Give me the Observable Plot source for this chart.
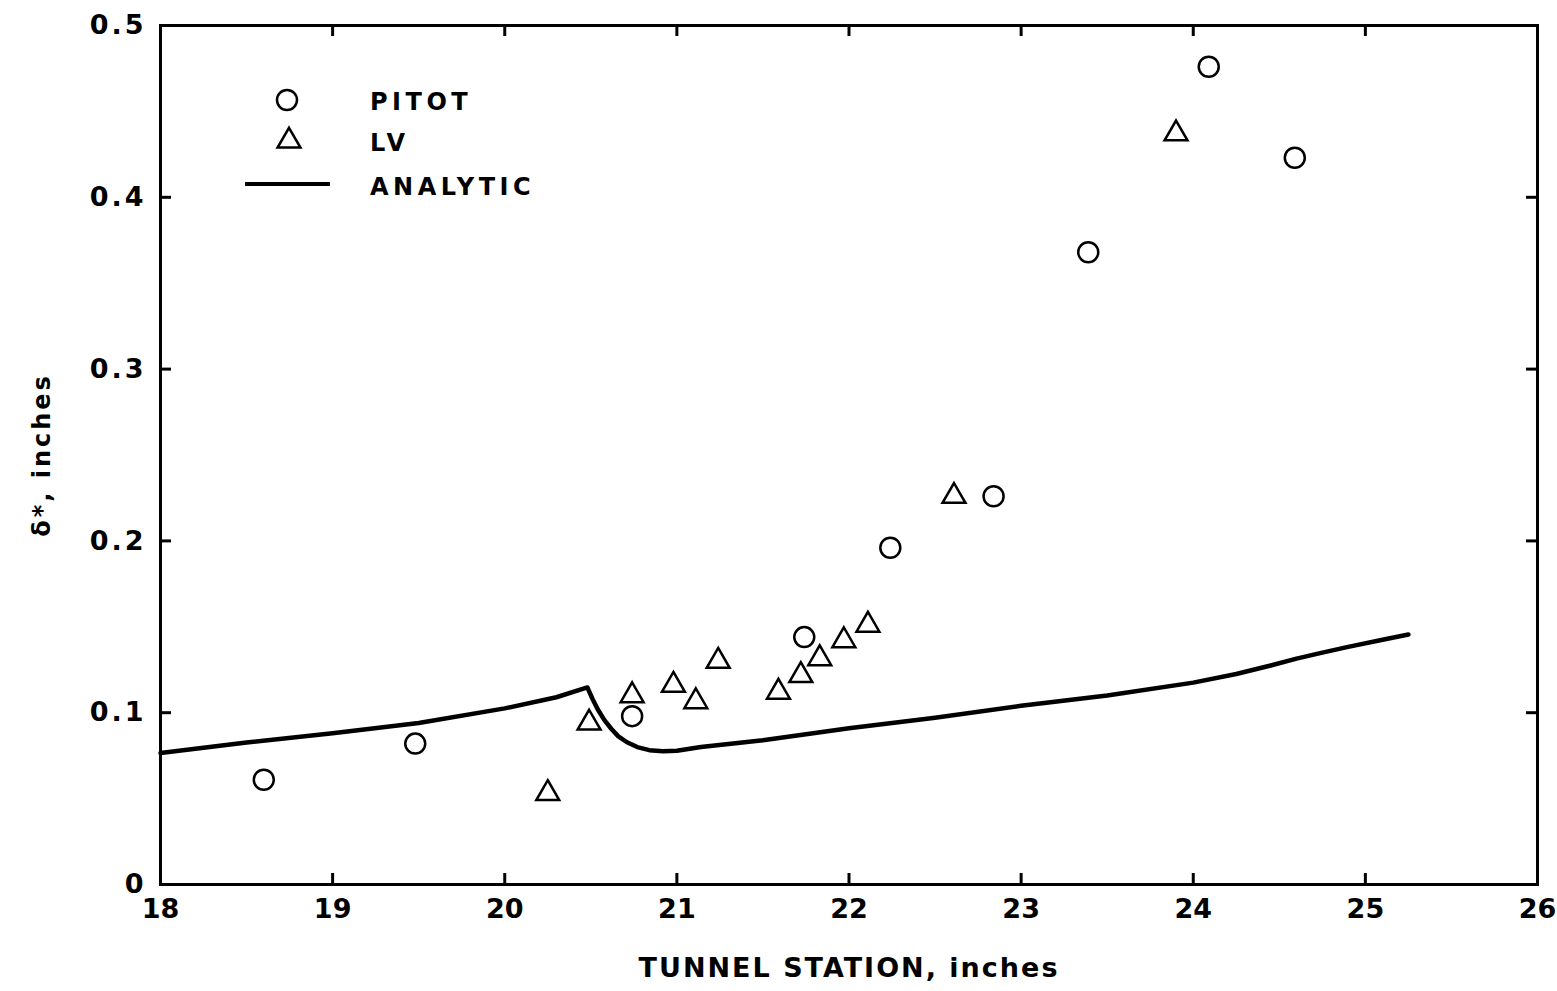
<!DOCTYPE html>
<html><head><meta charset="utf-8">
<script src="https://cdn.jsdelivr.net/npm/d3@7"></script>
<script src="https://cdn.jsdelivr.net/npm/@observablehq/plot@0.6"></script>
<style>
body{margin:0;background:#fff;}
#wrap{position:relative;width:1557px;height:991px;overflow:hidden;}
#legend{position:absolute;left:0;top:0;}
#legend text{font-family:"DejaVu Sans",sans-serif;font-weight:bold;font-size:24px;letter-spacing:4.5px;}
</style></head><body><div id="wrap"></div>
<script>
// PITOT (circles)
const pitotX = [18.60, 19.48, 20.74, 21.74, 22.24, 22.84, 23.39, 24.09, 24.59];
const pitotY = [0.061, 0.082, 0.098, 0.144, 0.196, 0.226, 0.368, 0.476, 0.423];
// LV (triangles)
const lvX = [20.25, 20.49, 20.74, 20.98, 21.11, 21.24, 21.59, 21.72, 21.83, 21.97, 22.11, 22.61, 23.90];
const lvY = [0.053, 0.094, 0.110, 0.116, 0.1065, 0.130, 0.112, 0.1217, 0.1315, 0.142, 0.151, 0.226, 0.437];
// ANALYTIC (line)
const anX = [18.0, 18.5, 19.0, 19.5, 20.0, 20.3, 20.48, 20.51, 20.54, 20.58, 20.62, 20.66, 20.71, 20.77, 20.84, 20.92, 21.0, 21.14, 21.5, 22.0, 22.5, 23.0, 23.5, 24.0, 24.25, 24.45, 24.6, 24.75, 24.9, 25.1, 25.25];
const anY = [0.0765, 0.0826, 0.088, 0.094, 0.1025, 0.109, 0.1147, 0.108, 0.102, 0.0955, 0.0905, 0.0862, 0.0828, 0.0800, 0.0782, 0.0775, 0.0778, 0.080, 0.084, 0.091, 0.097, 0.104, 0.110, 0.1175, 0.1225, 0.1275, 0.1315, 0.135, 0.1383, 0.1425, 0.1455];
// ticks
const xTicks = [18, 19, 20, 21, 22, 23, 24, 25, 26];
const yTicks = [0, 0.1, 0.2, 0.3, 0.4, 0.5];
const yTickLabels = ["0", "0.1", "0.2", "0.3", "0.4", "0.5"];

const pitot = pitotX.map((x, i) => ({x, y: pitotY[i]}));
const lv = lvX.map((x, i) => ({x, y: lvY[i]}));
const analytic = anX.map((x, i) => ({x, y: anY[i]}));

const W = 1557, H = 991;
const mL = 160, mR = 20, mT = 25, mB = 107;
const fw = W - mL - mR, fh = H - mT - mB;
const T = 11;

const chart = Plot.plot({
  width: W, height: H,
  marginLeft: mL, marginRight: mR, marginTop: mT, marginBottom: mB,
  style: {fontFamily: "'DejaVu Sans', sans-serif", fontWeight: "bold", fontSize: "26px", color: "#000", background: "#fff"},
  x: {domain: [18, 26]},
  y: {domain: [0, 0.5]},
  marks: [
    Plot.axisX({ticks: xTicks, tickSize: 0, tickPadding: 14, tickFormat: d => String(d), fontSize: 27,
      label: "TUNNEL STATION, inches", labelAnchor: "center", labelOffset: 92, labelArrow: "none"}),
    Plot.axisY({ticks: yTicks, tickSize: 0, tickPadding: 14, tickFormat: d => yTickLabels[yTicks.indexOf(d)], fontSize: 27, label: null}),
    Plot.axisY({ticks: [], tickSize: 0, label: "δ*, inches", labelAnchor: "center", labelOffset: 128, labelArrow: "none", fontSize: 24}),
    // inward ticks on all four sides
    Plot.tickX(xTicks.slice(1, -1), {x: d => d, insetTop: fh - T, strokeWidth: 3}),
    Plot.tickX(xTicks.slice(1, -1), {x: d => d, insetBottom: fh - T, strokeWidth: 3}),
    Plot.tickY(yTicks.slice(1, -1), {y: d => d, insetRight: fw - T, strokeWidth: 3}),
    Plot.tickY(yTicks.slice(1, -1), {y: d => d, insetLeft: fw - T, strokeWidth: 3}),
    Plot.frame({stroke: "#000", strokeWidth: 3}),
    Plot.line(analytic, {x: "x", y: "y", stroke: "#000", strokeWidth: 4.5, curve: "linear", strokeLinejoin: "round"}),
    Plot.dot(pitot, {x: "x", y: "y", r: 10, stroke: "#000", strokeWidth: 2.5, fill: "none"}),
    Plot.dot(lv, {x: "x", y: "y", r: 8.5, symbol: "triangle", stroke: "#000", strokeWidth: 2.5, fill: "none"})
  ]
});
const wrap = document.getElementById("wrap");
wrap.appendChild(chart);
chart.querySelectorAll('[aria-label="x-axis label"] text').forEach(t => t.setAttribute("letter-spacing", "2"));
chart.querySelectorAll('[aria-label="y-axis label"] text').forEach(t => t.setAttribute("letter-spacing", "3"));
chart.querySelectorAll('[aria-label="y-axis tick label"] text').forEach(t => t.setAttribute("letter-spacing", "3"));

// legend overlay
const ns = "http://www.w3.org/2000/svg";
const lg = document.createElementNS(ns, "svg");
lg.setAttribute("id", "legend");
lg.setAttribute("width", W); lg.setAttribute("height", 260);
const legendItems = ["PITOT", "LV", "ANALYTIC"];
const sym = d3.select(lg);
sym.append("path").attr("d", d3.symbol(d3.symbolCircle, Math.PI * 100)()).attr("transform", "translate(287,100)").attr("fill", "none").attr("stroke", "#000").attr("stroke-width", 2.5);
sym.append("path").attr("d", d3.symbol(d3.symbolTriangle, Math.PI * 8.5 * 8.5)()).attr("transform", "translate(289,141)").attr("fill", "none").attr("stroke", "#000").attr("stroke-width", 2.5);
sym.append("line").attr("x1", 245).attr("x2", 330).attr("y1", 184).attr("y2", 184).attr("stroke", "#000").attr("stroke-width", 4);
legendItems.forEach((t, i) => sym.append("text").attr("x", 370).attr("y", [110, 151, 195][i]).attr("letter-spacing", i === 1 ? 8 : null).text(t));
wrap.appendChild(lg);
</script>
</body></html>
